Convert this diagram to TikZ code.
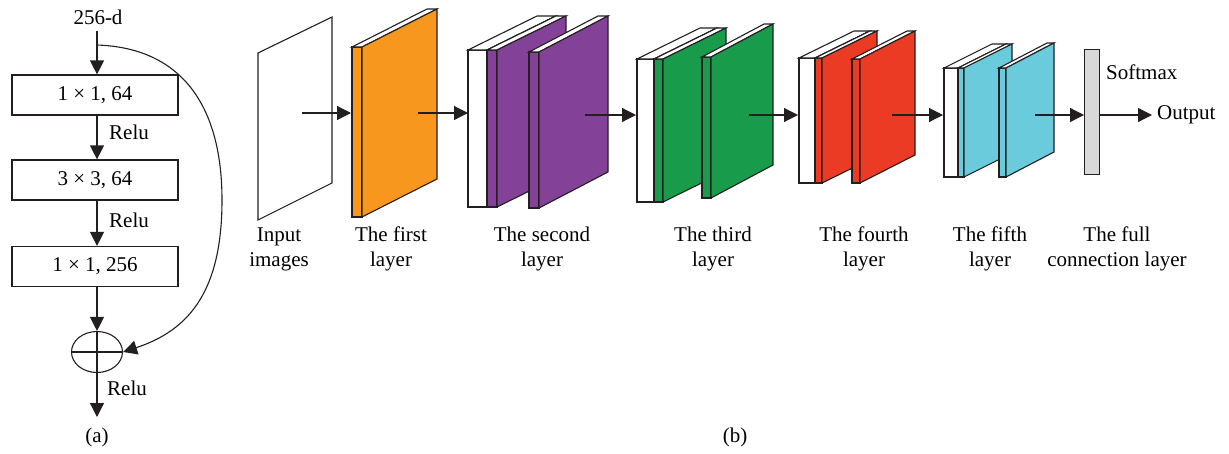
\documentclass[tikz,border=0pt]{standalone}
\usepackage{fontspec}
\setmainfont{Liberation Serif}
\usetikzlibrary{arrows.meta,shapes.geometric}
\definecolor{cOrange}{HTML}{F7971D}
\definecolor{cPurple}{HTML}{834298}
\definecolor{cGreen}{HTML}{189B4A}
\definecolor{cRed}{HTML}{EC3B24}
\definecolor{cCyan}{HTML}{69CBDB}
\definecolor{cGray}{HTML}{D9D9D9}
\definecolor{cLine}{HTML}{231F20}
\tikzset{
  slabline/.style={draw=cLine, line width=1.1pt, line join=miter},
  arr/.style={draw=cLine, line width=1.2pt, -{Triangle[length=14pt,width=14pt]}},
  plain/.style={draw=cLine, line width=1.1pt},
  boxa/.style={draw=cLine, line width=1.2pt, minimum width=166pt, minimum height=40pt, inner sep=0pt},
  lbl/.style={align=center, inner sep=0pt},
}
\newcommand{\slab}[7]{%
  \filldraw[slabline,fill=#7] (#1,#3) rectangle ({#1+#2},#4);
  \filldraw[slabline,fill=white] (#1,#3) -- ++(#5,-#6) -- ++(#2,0) -- ({#1+#2},#3) -- cycle;
  \filldraw[slabline,fill=#7] ({#1+#2},#3) -- ++(#5,-#6) -- ++(0,{#4-#3}) -- ({#1+#2},#4) -- cycle;
}
\begin{document}
\begin{tikzpicture}[x=1pt,y=-1pt,font=\fontsize{21}{25}\selectfont]
\useasboundingbox (0,0) rectangle (1229,453);
% ---------------- (a) ----------------
\node[inner sep=0pt] (d256) at (98,17) {256-d};
\node[boxa] (b1) at (95,95) {1 × 1, 64};
\node[boxa] (b2) at (95,180) {3 × 3, 64};
\node[boxa] (b3) at (95,266.5) {1 × 1, 256};
\node[ellipse, draw=cLine, line width=1.1pt, minimum width=51pt, minimum height=41pt, inner sep=0pt] (sum) at (97,352) {};
\coordinate (top) at (97,31);
\coordinate (branch) at (97,45);
\coordinate (outa) at (97,417);
\draw[arr] (top) -- (top |- b1.north);
\draw[arr] (b1.south -| top) -- (b2.north -| top);
\draw[arr] (b2.south -| top) -- (b3.north -| top);
\draw[arr] (b3.south -| top) -- (sum.north);
\draw[plain] (sum.north) -- (sum.south);
\draw[plain] (sum.west) -- (sum.east);
\draw[arr] (sum.south) -- (outa);
\draw[arr, line width=1.1pt] (branch) .. controls (185,48) and (222,110) .. (222,200) .. controls (222,290) and (190,330) .. (sum.east);
\node[inner sep=0pt] (r1) at (129,132) {Relu};
\node[inner sep=0pt] (r2) at (129,220) {Relu};
\node[inner sep=0pt] (r3) at (127,388) {Relu};
\node[inner sep=0pt] (capa) at (97,437) {(a)};
% ---------------- (b) ----------------
\filldraw[slabline,fill=white] (258,53) -- (332,17) -- (332,183) -- (258,220) -- cycle;
\slab{352}{10}{47}{217}{75}{38}{cOrange}
\slab{468}{19}{50}{207}{69}{34}{white}
\slab{487}{10}{50}{207}{69}{34}{cPurple}
\slab{529}{10}{52}{208}{69}{36}{cPurple}
\slab{637}{17}{59}{202}{63}{31}{white}
\slab{654}{9}{59}{202}{63}{31}{cGreen}
\slab{702}{9}{57}{198}{62}{33}{cGreen}
\slab{799}{16}{58}{183}{55}{27}{white}
\slab{815}{7}{58}{183}{55}{27}{cRed}
\slab{852}{8}{59}{183}{55}{28}{cRed}
\slab{944}{14}{68}{177}{48}{24}{white}
\slab{958}{6}{68}{177}{48}{24}{cCyan}
\slab{999}{7}{68}{177}{48}{25}{cCyan}
\node[draw=cLine, fill=cGray, line width=1.2pt, minimum width=15pt, minimum height=125pt, inner sep=0pt, anchor=north west] (fc) at (1084,49) {};
\coordinate (s0) at (302,113); \coordinate (e0) at (351,113);
\coordinate (s1) at (418,113); \coordinate (e1) at (468,113);
\coordinate (s2) at (585,115); \coordinate (e2) at (636,115);
\coordinate (s3) at (749,115); \coordinate (e3) at (798,115);
\coordinate (s4) at (892,115); \coordinate (e4) at (943,115);
\coordinate (s5) at (1035,115);
\coordinate (e6) at (1152,115);
\draw[arr] (s0) -- (e0);
\draw[arr] (s1) -- (e1);
\draw[arr] (s2) -- (e2);
\draw[arr] (s3) -- (e3);
\draw[arr] (s4) -- (e4);
\draw[arr] (s5) -- (s5 -| fc.west);
\draw[arr] (s5 -| fc.east) -- (e6);
\node[inner sep=0pt, anchor=west] (outp) at (1157,115) {Output};
\node[inner sep=0pt, anchor=west] (smax) at (1106,72) {Softmax};
\node[lbl] (l0) at (279,249) {Input\\images};
\node[lbl] (l1) at (391,249) {The first\\layer};
\node[lbl] (l2) at (542,249) {The second\\layer};
\node[lbl] (l3) at (713,249) {The third\\layer};
\node[lbl] (l4) at (864,249) {The fourth\\layer};
\node[lbl] (l5) at (990,249) {The fifth\\layer};
\node[lbl] (l6) at (1117,249) {The full\\connection layer};
\node[inner sep=0pt] (capb) at (735,437) {(b)};
\end{tikzpicture}
\end{document}
